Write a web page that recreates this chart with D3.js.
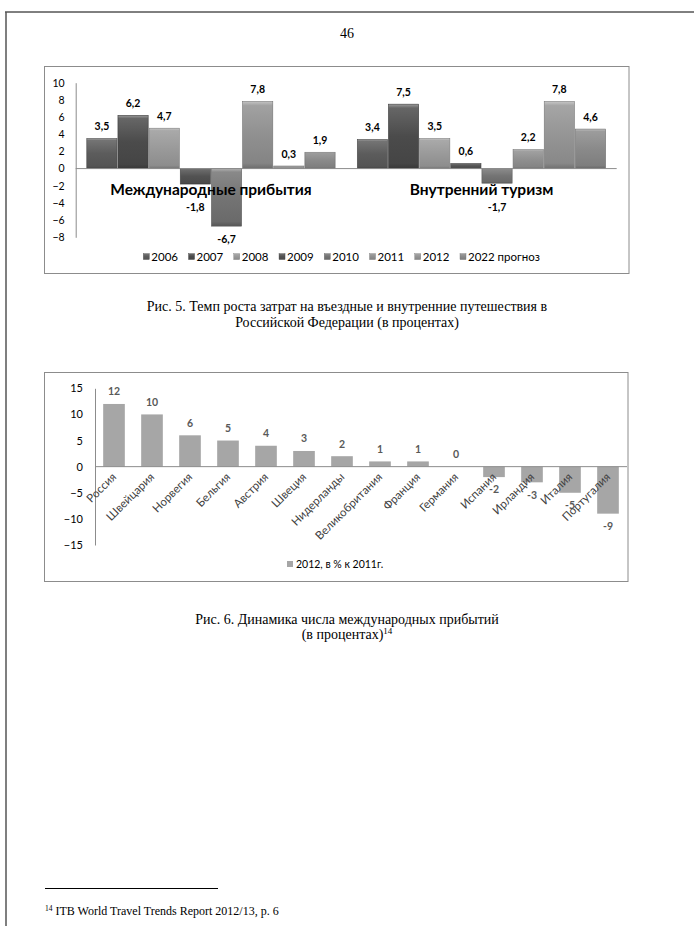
<!DOCTYPE html>
<html><head><meta charset="utf-8">
<script src="https://cdn.jsdelivr.net/npm/d3@7/dist/d3.min.js"></script>
<style>
html,body{margin:0;padding:0;background:#fff;}
svg{display:block;}
</style></head>
<body>
<svg id="page" width="694" height="926"></svg>
<script>
// ---------- DATA ----------
const groups1 = ["Международные прибытия", "Внутренний туризм"];
const years1 = ["2006","2007","2008","2009","2010","2011","2012","2022 прогноз"];
const intlArrivals = [3.5, 6.2, 4.7, -1.8, -6.7, 7.8, 0.3, 1.9];
const domesticTourism = [3.4, 7.5, 3.5, 0.6, -1.7, 2.2, 7.8, 4.6];
const yTicks1 = [-8,-6,-4,-2,0,2,4,6,8,10];
const seriesColors1 = ["#5c5c5c","#4b4b4b","#9a9a9a","#525252","#747474","#909090","#959595","#8a8a8a"];

const countries = ["Россия","Швейцария","Норвегия","Бельгия","Австрия","Швеция","Нидерланды","Великобритания","Франция","Германия","Испания","Ирландия","Италия","Португалия"];
const arrivals2012 = [12, 10, 6, 5, 4, 3, 2, 1, 1, 0, -2, -3, -5, -9];
const yTicks2 = [-15,-10,-5,0,5,10,15];
const legend2 = "2012, в % к 2011г.";

const fmt = v => String(v).replace(".", ",");

const svg = d3.select("#page");
const defs = svg.append("defs");

// ---------- PAGE FRAME ----------
svg.append("line").attr("x1",5).attr("x2",694).attr("y1",12).attr("y2",12).attr("stroke","#000").attr("stroke-width",1);
svg.append("line").attr("x1",6).attr("x2",6).attr("y1",12).attr("y2",926).attr("stroke","#555").attr("stroke-width",1.5);
svg.append("text").attr("x",347).attr("y",38).attr("text-anchor","middle")
  .attr("font-family","Liberation Serif").attr("font-size",14).text("46");

// ---------- CHART 1 ----------
const c1 = svg.append("g");
c1.append("rect").attr("x",44.5).attr("y",66.5).attr("width",584.5).attr("height",207)
  .attr("fill","#fff").attr("stroke","#8c8c8c").attr("stroke-width",1);

const y1 = d3.scaleLinear().domain([-8,10]).range([237.3,82.7]);
const x1 = d3.scaleBand().domain(groups1).range([75.7,616.7]).paddingInner(0.082).paddingOuter(0.041);
const xs1 = d3.scaleBand().domain(years1).range([0,x1.bandwidth()]).paddingInner(0.03);

seriesColors1.forEach((c,i)=>{
  const g = defs.append("linearGradient").attr("id","g1_"+i).attr("x1",0).attr("x2",0).attr("y1",0).attr("y2",1);
  const base = d3.color(c);
  g.append("stop").attr("offset","0%").attr("stop-color",d3.interpolateRgb(c,"#fff")(0.45));
  g.append("stop").attr("offset","6%").attr("stop-color",d3.interpolateRgb(c,"#fff")(0.15));
  g.append("stop").attr("offset","50%").attr("stop-color",c);
  g.append("stop").attr("offset","92%").attr("stop-color",base.darker(0.25));
  g.append("stop").attr("offset","100%").attr("stop-color",base.darker(0.8));
});

// y axis
const ax1 = d3.axisLeft(y1).tickValues(yTicks1).tickSize(0).tickPadding(11);
const gy1 = c1.append("g").attr("transform","translate(75.7,0)").call(ax1);
gy1.select(".domain").attr("stroke","#8c8c8c");
gy1.selectAll("text").attr("font-family","Lato").attr("font-size",10.5).attr("fill","#000");

const data1 = [intlArrivals, domesticTourism];
const y01 = y1(0);
groups1.forEach((grp,gi)=>{
  const gg = c1.append("g").attr("transform",`translate(${x1(grp)},0)`);
  data1[gi].forEach((v,i)=>{
    const top = Math.min(y1(v),y01), h = Math.abs(y1(v)-y01);
    gg.append("rect").attr("x",xs1(years1[i])).attr("y",top).attr("width",xs1.bandwidth()).attr("height",Math.max(h,0.8))
      .attr("fill",`url(#g1_${i})`).attr("stroke",d3.color(seriesColors1[i]).darker(0.6)).attr("stroke-width",0.6);
  });
});
// zero axis line
c1.append("line").attr("x1",75.7).attr("x2",616.7).attr("y1",y01).attr("y2",y01).attr("stroke","#8c8c8c");

// category labels
groups1.forEach(grp=>{
  c1.append("text").attr("x",x1(grp)+x1.bandwidth()/2).attr("y",y01+26).attr("text-anchor","middle")
    .attr("font-family","Lato").attr("font-weight","bold").attr("font-size",15.5).attr("fill","#000").text(grp);
});
// data labels
const catLabelY = y01 + 21;
groups1.forEach((grp,gi)=>{
  data1[gi].forEach((v,i)=>{
    const cx = x1(grp)+xs1(years1[i])+xs1.bandwidth()/2;
    let cy;
    if (v>=0) cy = y1(v)-12;
    else { cy = y1(v)+13; if (cy < catLabelY+14) cy = catLabelY+18; }
    c1.append("text").attr("x",cx).attr("y",cy+3.6).attr("text-anchor","middle")
      .attr("font-family","Lato").attr("font-weight","bold").attr("font-size",10.5).attr("fill","#000").text(fmt(v));
  });
});
// legend
const lg1 = d3.scalePoint().domain(years1).range([143.3,460]);
years1.forEach((yr,i)=>{
  c1.append("rect").attr("x",lg1(yr)).attr("y",253.5).attr("width",6).attr("height",6)
    .attr("fill",`url(#g1_${i})`).attr("stroke",d3.color(seriesColors1[i]).darker(0.5)).attr("stroke-width",0.4);
  c1.append("text").attr("x",lg1(yr)+8).attr("y",260.5).attr("font-family","Lato").attr("font-size",11.5)
    .attr("fill","#000").text(yr);
});

// caption 5
const cap = (y,t,size)=>svg.append("text").attr("x",347).attr("y",y).attr("text-anchor","middle")
  .attr("font-family","Liberation Serif").attr("font-size",size||14).attr("fill","#000").text(t);
cap(311,"Рис. 5. Темп роста затрат на въездные и внутренние путешествия в");
cap(327,"Российской Федерации (в процентах)");

// ---------- CHART 2 ----------
const c2 = svg.append("g");
c2.append("rect").attr("x",44.5).attr("y",372.5).attr("width",583.5).attr("height",209)
  .attr("fill","#fff").attr("stroke","#8c8c8c").attr("stroke-width",1);
const y2 = d3.scaleLinear().domain([-15,15]).range([545,388.3]);
const x2 = d3.scaleBand().domain(countries).range([95,627]).paddingInner(0.43).paddingOuter(0.215);
const ax2 = d3.axisLeft(y2).tickValues(yTicks2).tickSize(0).tickPadding(12);
const gy2 = c2.append("g").attr("transform","translate(95,0)").call(ax2);
gy2.select(".domain").attr("stroke","#8c8c8c");
gy2.selectAll("text").attr("font-family","Lato").attr("font-size",11).attr("fill","#000");
const y02 = y2(0);
countries.forEach((c,i)=>{
  const v = arrivals2012[i];
  const top = Math.min(y2(v),y02), h = Math.abs(y2(v)-y02);
  c2.append("rect").attr("x",x2(c)).attr("y",top).attr("width",x2.bandwidth()).attr("height",h).attr("fill","#a6a6a6");
});
c2.append("line").attr("x1",95).attr("x2",627).attr("y1",y02).attr("y2",y02).attr("stroke","#8c8c8c");
countries.forEach((c,i)=>{
  const v = arrivals2012[i];
  const cx = x2(c)+x2.bandwidth()/2;
  const cy = v>=0 ? y2(v)-12.5 : y2(v)+12.5;
  c2.append("text").attr("x",cx).attr("y",cy+3.8).attr("text-anchor","middle")
    .attr("font-family","Lato").attr("font-weight","bold").attr("font-size",10.5).attr("fill","#595959").text(fmt(v));
  const px = cx+3, py = y02+11;
  c2.append("text").attr("transform",`translate(${px},${py}) rotate(-45)`).attr("text-anchor","end")
    .attr("font-family","Lato").attr("font-size",11.5).attr("fill","#404040").text(c);
});
c2.append("rect").attr("x",287).attr("y",561).attr("width",6).attr("height",6).attr("fill","#a6a6a6");
c2.append("text").attr("x",296).attr("y",567.5).attr("font-family","Lato").attr("font-size",10.5).attr("fill","#000").text(legend2);

// caption 6
cap(624,"Рис. 6. Динамика числа международных прибытий");
const c6 = cap(639,"(в процентах)");
c6.append("tspan").attr("font-size",9).attr("dy",-5).text("14");

// footnote
svg.append("line").attr("x1",45).attr("x2",218).attr("y1",888.5).attr("y2",888.5).attr("stroke","#000").attr("stroke-width",1);
const fn = svg.append("text").attr("x",45).attr("y",915).attr("font-family","Liberation Serif").attr("font-size",12).attr("fill","#000");
fn.append("tspan").attr("font-size",7.5).attr("dy",-4).text("14");
fn.append("tspan").attr("dy",4).text(" ITB World Travel Trends Report 2012/13, p. 6");
</script>
</body></html>
